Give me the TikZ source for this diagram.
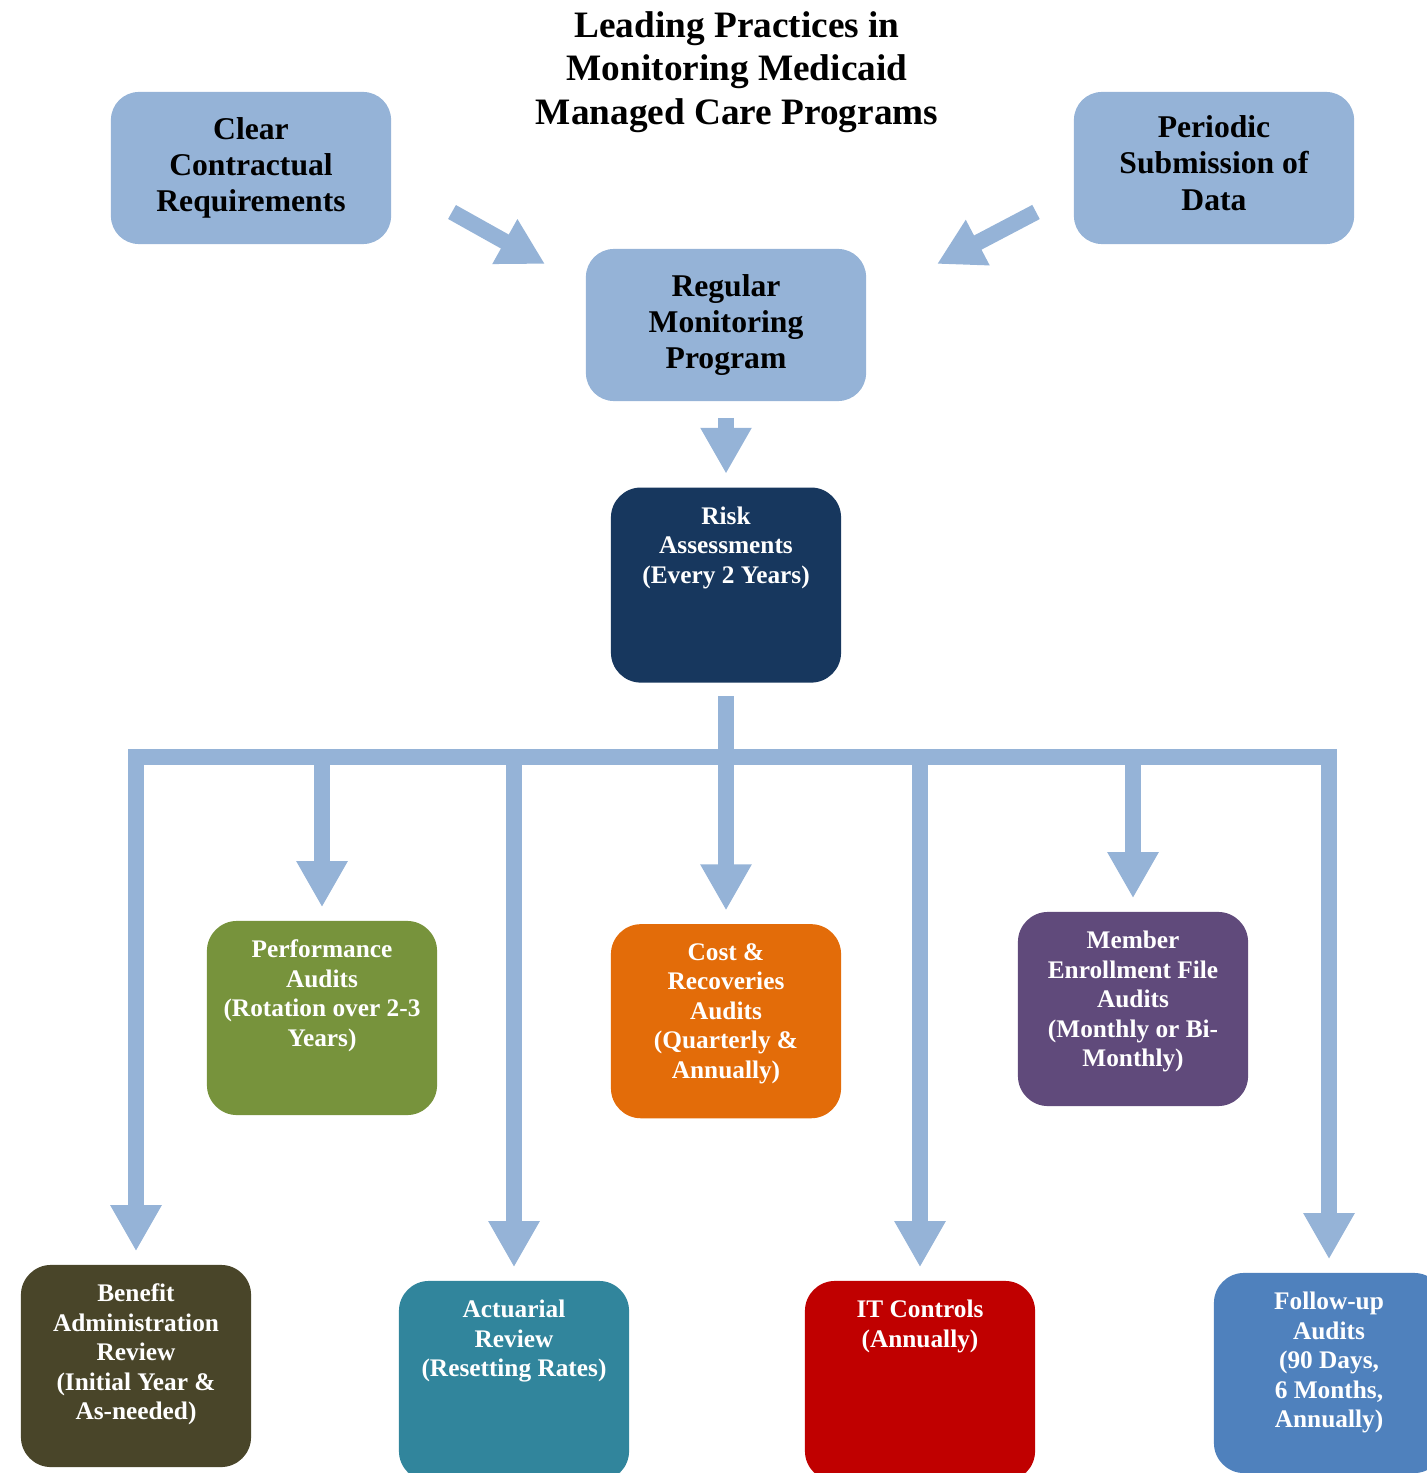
\documentclass[tikz,border=0pt]{standalone}
\usepackage{fontspec}
\setmainfont{Liberation Serif}
\usetikzlibrary{positioning,arrows.meta}

\newcommand{\boxtext}[2][1.56cm]{\parbox[t][#1][t]{2.2cm}{\centering #2}}

\begin{document}
\begin{tikzpicture}[x=0.01cm,y=-0.01cm]
  % Définition des couleurs
  \definecolor{bleuclair}{RGB}{149,179,215}
  \definecolor{marine}{RGB}{23,55,94}
  \definecolor{vertolive}{RGB}{119,147,60}
  \definecolor{orange}{RGB}{227,108,9}
  \definecolor{violet}{RGB}{96,74,123}
  \definecolor{brunolive}{RGB}{73,69,41}
  \definecolor{sarcelle}{RGB}{49,133,156}
  \definecolor{rouge}{RGB}{192,0,0}
  \definecolor{bleuacier}{RGB}{79,129,189}

  \tikzset{
    lightbox/.style={fill=bleuclair, rounded corners=0.28cm, minimum width=2.8cm,
      minimum height=1.52cm, align=center, font=\fontsize{9}{10.3}\selectfont\bfseries},
    colbox/.style={fill=#1, text=white, rounded corners=0.3cm, inner xsep=0.05cm,
      inner ysep=0.19cm, font=\fontsize{7.2}{8.4}\selectfont\bfseries},
    flow/.style={draw=bleuclair, line width=0.16cm,
      -{Triangle[width=0.48cm,length=0.46cm]}},
  }

  \useasboundingbox (0,0) rectangle (1426,1473);

  % Titre
  \node[font=\fontsize{10.6}{12.3}\selectfont\bfseries, align=center] (titre) at (737,72)
    {Leading Practices in\\Monitoring Medicaid\\Managed Care Programs};

  % --- Blocs du haut ---
  \node[lightbox] (clear) at (251,168) {Clear\\Contractual\\Requirements};
  \node[lightbox, text depth=0.1cm] (periodic) at (1214,168) {Periodic\\Submission of\\Data};
  \node[lightbox] (regular) at (726,325) {Regular\\Monitoring\\Program};
  \node[colbox=marine, below=0.85cm of regular] (risk)
    {\boxtext[1.57cm]{Risk\\Assessments\\(Every 2 Years)}};

  % --- Audits, premier rang ---
  \node[colbox=vertolive] (perf) at (322,1018)
    {\boxtext{Performance\\Audits\\(Rotation over 2-3 Years)}};
  \node[colbox=orange, below=2.4cm of risk] (cost)
    {\boxtext{Cost \&\\Recoveries\\Audits\\(Quarterly \&\\Annually)}};
  \node[colbox=violet] (member) at (1133,1009)
    {\boxtext{Member\\Enrollment File\\Audits\\(Monthly or Bi-\\Monthly)}};

  % --- Audits, second rang ---
  \node[colbox=brunolive] (benefit) at (136,1366)
    {\boxtext[1.64cm]{Benefit\\Administration\\Review\\(Initial Year \&\\As-needed)}};
  \node[colbox=sarcelle] (actuarial) at (514,1381)
    {\boxtext[1.62cm]{Actuarial\\Review\\(Resetting Rates)}};
  \node[colbox=rouge] (itctl) at (920,1381)
    {\boxtext[1.62cm]{IT Controls\\(Annually)}};
  \node[colbox=bleuacier] (follow) at (1329,1373)
    {\boxtext[1.62cm]{Follow-up\\Audits\\(90 Days,\\6 Months,\\Annually)}};

  % --- Flèches vers le programme ---
  \coordinate (outL) at (452,212);
  \coordinate (inL) at (545,264);
  \coordinate (outR) at (1036,212);
  \coordinate (inR) at (937,264);
  \draw[flow] (outL) -- (inL);
  \draw[flow] (outR) -- (inR);
  \draw[flow, shorten <=0.16cm, shorten >=0.13cm] (regular.south) -- (risk.north);

  % --- Tronc et barre de distribution ---
  \coordinate (bus) at (726,757);
  \draw[flow, shorten <=0.13cm, shorten >=0.13cm] (risk.south) -- (cost.north);
  \draw[flow, {Triangle[width=0.48cm,length=0.46cm]}-{Triangle[width=0.48cm,length=0.46cm]},
    line join=miter, shorten <=0.13cm, shorten >=0.13cm]
    (benefit.north) |- (bus) -| (follow.north);
  \foreach \n in {perf,actuarial,itctl,member}
    \draw[flow, shorten >=0.13cm] (\n.north |- bus) -- (\n.north);

\end{tikzpicture}
\end{document}
